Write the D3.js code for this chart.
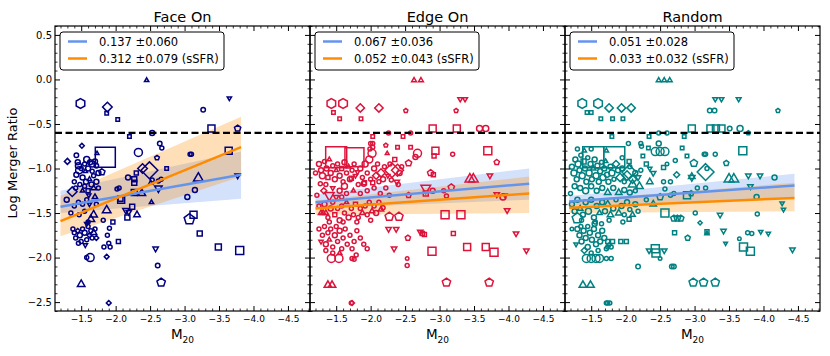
<!DOCTYPE html>
<html><head><meta charset="utf-8">
<script src="https://cdn.jsdelivr.net/npm/d3@7"></script>
<style>body{margin:0;background:#fff}svg{display:block}text{font-family:"DejaVu Sans",sans-serif}</style>
</head><body>
<svg id="c" width="830" height="356"></svg>
<script>
// ---------- DATA ----------
const panelTitles = ["Face On", "Edge On", "Random"];
const panelColors = ["#000080", "#dc143c", "#008080"];
const xTickValues = [-1.5, -2.0, -2.5, -3.0, -3.5, -4.0, -4.5];
const yTickValues = [0.5, 0.0, -0.5, -1.0, -1.5, -2.0, -2.5];
const mergerThreshold = -0.6;

const legendSlope = ["0.137 \u00b10.060", "0.067 \u00b10.036", "0.051 \u00b10.028"];
const legendSlopeSSFR = ["0.312 \u00b10.079 (sSFR)", "0.052 \u00b10.043 (sSFR)", "0.033 \u00b10.032 (sSFR)"];

// fit ranges (x ends) and line / band end values
const fitX = [[-1.2, -3.82], [-1.2, -4.3], [-1.18, -4.45]];
const fitM20 = [[-1.43, -1.07], [-1.38, -1.17], [-1.37, -1.19]];
const fitSSFR = [[-1.59, -0.76], [-1.45, -1.28], [-1.44, -1.33]];
const bandM20Upper = [[-1.25, -0.81], [-1.29, -1.00], [-1.31, -1.06]];
const bandM20Lower = [[-1.50, -1.34], [-1.45, -1.35], [-1.42, -1.33]];
const bandSSFRUpper = [[-1.31, -0.42], [-1.36, -1.09], [-1.36, -1.16]];
const bandSSFRLower = [[-1.76, -1.09], [-1.52, -1.50], [-1.50, -1.48]];

// points: [M20, logMergerRatio, marker, size]
const faceOnPoints = [
[-2.45,-0.01,'^',4],[-1.49,-0.27,'h',9],[-1.88,-0.31,'D',8],[-1.87,-0.38,'s',3.5],[-2.03,-0.45,'s',3.5],
[-3.27,-0.34,'o',4.5],[-3.65,-0.21,'v',4],[-3.39,-0.55,'s',7],[-3.77,-0.55,'p',6],[-2.53,-0.60,'o',5],
[-2.20,-0.64,'s',3.5],[-2.64,-0.72,'o',4.5],[-2.67,-0.77,'o',4],[-2.33,-0.82,'o',8],[-2.60,-0.88,'p',4.5],
[-3.08,-0.84,'o',4],[-3.10,-0.84,'o',4],[-3.64,-0.80,'s',7],[-1.85,-0.875,'s',20],[-1.73,-0.83,'^',3.5],
[-1.51,-0.745,'D',4],[-1.30,-0.92,'D',5],[-2.49,-1.02,'D',14],[-2.39,-1.00,'D',8],[-2.74,-1.00,'s',3.5],
[-2.18,-1.10,'o',5],[-2.30,-1.05,'s',4],[-2.27,-1.12,'s',5],[-2.27,-1.16,'s',5],[-2.02,-1.23,'o',4],
[-2.53,-1.13,'o',4],[-2.66,-1.12,'o',4],[-3.20,-1.11,'^',9],[-3.77,-1.08,'v',5],[-3.15,-1.24,'o',5],
[-3.04,-1.32,'o',5],[-2.62,-1.22,'v',7],[-2.38,-1.28,'^',7],[-2.27,-1.27,'s',6],[-2.51,-1.16,'^',4],
[-2.08,-1.35,'s',7],[-2.15,-1.47,'v',6],[-2.19,-1.49,'v',5],[-2.24,-1.43,'s',5],[-2.31,-1.52,'^',6],
[-2.17,-1.55,'s',5],[-1.87,-1.47,'^',8],[-1.82,-1.58,'o',4],[-1.68,-1.52,'^',7],[-1.64,-1.57,'^',7],
[-1.96,-1.60,'s',4],[-3.07,-1.57,'p',10],[-3.13,-1.52,'s',7],[-3.22,-1.73,'s',5],[-3.49,-1.88,'s',6],
[-3.80,-1.92,'s',8],[-1.91,-1.67,'o',4],[-1.88,-1.75,'o',4],[-2.04,-1.82,'s',4],[-2.58,-1.90,'v',5],
[-1.90,-1.84,'o',4],[-1.92,-1.88,'o',4],[-1.83,-1.88,'o',4],[-1.63,-2.00,'o',8],[-1.58,-2.00,'o',4],
[-1.50,-2.30,'^',7],[-1.90,-2.51,'D',4],[-1.87,-1.99,'D',4],[-2.61,-2.09,'o',4.5],[-2.66,-2.28,'p',8],
[-2.52,-1.38,'^',4],[-2.05,-1.22,'o',4],[-2.07,-1.34,'s',5],[-2.62,-1.14,'o',4],[-1.80,-1.04,'p',6],
[-1.37,-1.26,'D',8],[-1.29,-1.35,'o',5],[-1.40,-1.15,'o',4],[-1.61,-1.30,'v',4],
[-1.43,-0.85,'o',4.5],[-1.45,-0.93,'o',5],[-1.46,-0.97,'o',6],[-1.47,-1.02,'o',7],[-1.43,-1.07,'o',5],
[-1.50,-1.00,'o',4],[-1.52,-1.10,'o',5],[-1.55,-0.95,'o',4],[-1.58,-0.90,'o',6],[-1.60,-1.00,'o',5],
[-1.63,-0.93,'o',5],[-1.66,-0.95,'o',6],[-1.70,-0.92,'o',5],[-1.72,-0.97,'o',4.5],[-1.75,-1.05,'o',5],
[-1.68,-1.08,'o',4],[-1.62,-1.12,'^',4],[-1.57,-1.15,'o',5],[-1.55,-1.20,'o',4],[-1.65,-1.18,'o',5],
[-1.72,-1.15,'o',5],[-1.48,-1.18,'o',4],[-1.52,-1.25,'^',4],[-1.60,-1.25,'s',4],[-1.68,-1.22,'^',5],
[-1.42,-1.22,'o',4],[-1.75,-1.22,'o',4],[-1.56,-1.03,'^',4],[-1.66,-1.03,'o',4],[-1.70,-1.32,'^',5],
[-1.58,-1.35,'o',4],[-1.52,-1.40,'o',4],[-1.46,-1.38,'o',4],[-1.62,-1.40,'v',4],[-1.72,-1.40,'o',4],
[-1.40,-1.42,'o',4],[-1.55,-1.48,'o',4],[-1.47,-1.52,'o',4],[-1.35,-1.50,'o',4],
[-1.40,-1.72,'o',4],[-1.42,-1.78,'o',4],[-1.45,-1.70,'D',4],[-1.48,-1.75,'o',5],[-1.50,-1.82,'o',4],
[-1.52,-1.68,'o',4],[-1.55,-1.72,'o',5],[-1.58,-1.80,'o',4],[-1.60,-1.65,'o',4],[-1.62,-1.75,'D',4],
[-1.64,-1.70,'o',4],[-1.66,-1.78,'o',4],[-1.68,-1.72,'^',6],[-1.70,-1.68,'o',4],[-1.56,-1.86,'v',4],
[-1.46,-1.84,'o',4],[-1.38,-1.68,'o',4],[-1.60,-1.60,'o',4],[-1.72,-1.78,'D',4],[-1.58,-1.62,'v',4]
];

const edgeOnPoints = [
[-2.63,-0.01,'^',4.5],[-2.73,-0.01,'^',4.5],[-1.43,-0.27,'h',9],[-1.60,-0.27,'h',9],
[-1.85,-0.32,'D',7],[-2.12,-0.32,'D',7],[-1.46,-0.37,'s',3.5],[-1.55,-0.44,'s',3.5],[-1.86,-0.44,'s',3.5],
[-2.51,-0.35,'p',4],[-3.24,-0.35,'p',4],[-3.30,-0.22,'v',4.5],[-3.37,-0.22,'v',4.5],
[-2.90,-0.55,'s',7],[-3.25,-0.55,'s',7],[-3.58,-0.55,'o',6],[-3.67,-0.55,'o',6],
[-2.26,-0.60,'o',4],[-2.58,-0.60,'o',4],[-2.03,-0.64,'s',3.5],[-2.47,-0.64,'s',3.5],
[-2.00,-0.72,'o',4],[-2.03,-0.72,'o',4],[-2.22,-0.74,'p',4],[-2.39,-0.76,'s',3.5],[-2.58,-0.76,'s',3.5],
[-2.24,-0.83,'^',3.5],[-2.68,-0.83,'o',8],[-2.65,-0.87,'o',5],[-2.94,-0.80,'s',7],[-2.92,-0.86,'s',4],
[-3.19,-0.84,'o',4],[-3.70,-0.80,'s',8],[-3.83,-0.93,'p',5],
[-1.50,-0.875,'s',21],[-1.765,-0.875,'s',19],
[-2.02,-0.83,'o',8],[-1.99,-0.78,'o',4],[-2.03,-0.76,'o',4],
[-2.31,-1.02,'D',12],[-2.39,-1.02,'D',10],[-2.55,-0.94,'p',6],[-2.38,-1.15,'v',5],
[-2.87,-1.05,'p',6],[-2.91,-1.07,'s',4],[-1.72,-1.11,'s',4],[-1.91,-1.16,'s',4],[-2.03,-1.16,'s',4],
[-1.81,-1.04,'v',4],[-2.80,-1.22,'v',9],[-2.55,-1.30,'p',5],
[-2.27,-1.54,'p',8],[-2.41,-1.54,'p',8],[-2.26,-1.68,'v',5],[-2.37,-1.68,'v',5],
[-2.75,-1.73,'s',4],[-2.54,-1.78,'p',5],[-2.89,-1.93,'s',8],[-2.34,-1.90,'v',5],
[-2.53,-2.01,'o',3.5],[-2.53,-2.09,'o',4],[-1.43,-2.01,'o',8],[-1.54,-2.01,'o',8],
[-1.73,-2.01,'o',4],[-1.79,-1.97,'o',4],[-1.76,-2.02,'o',4],
[-3.44,-1.12,'^',9],[-3.49,-1.12,'^',9],[-3.73,-1.08,'v',5],
[-3.83,-1.29,'v',5],[-3.92,-1.32,'o',6],[-3.95,-1.30,'v',4],[-3.98,-1.47,'v',5],
[-3.08,-1.52,'s',8],[-3.31,-1.52,'s',8],[-4.11,-1.73,'v',5],[-3.20,-1.73,'s',4],[-4.26,-1.92,'v',5],
[-3.40,-1.88,'s',7],[-3.67,-1.88,'s',7],[-3.79,-1.94,'s',8],
[-2.72,-1.71,'v',5],[-2.78,-1.74,'s',4],[-3.10,-2.28,'p',8],[-3.72,-2.28,'p',8],
[-1.38,-2.31,'^',7],[-1.44,-2.31,'^',7],[-1.72,-2.51,'o',4],[-1.73,-2.51,'D',4],
[-2.90,-1.25,'o',5],[-3.06,-1.25,'o',4],[-3.10,-1.31,'o',4],[-2.80,-1.28,'s',5],[-3.17,-1.21,'p',6],
[-2.14,-1.28,'o',4],[-2.27,-1.30,'o',4],
[-1.25,-0.95,'o',5],[-1.28,-1.02,'o',5],[-1.30,-1.08,'o',6],[-1.33,-0.92,'o',4],[-1.36,-1.00,'o',5],
[-1.38,-1.10,'s',4],[-1.40,-0.90,'^',4],[-1.42,-1.05,'o',5],[-1.45,-0.97,'o',4],[-1.48,-1.12,'o',5],
[-1.50,-1.02,'^',4],[-1.52,-0.95,'o',4],[-1.55,-1.08,'o',5],[-1.58,-1.00,'s',4],[-1.60,-1.15,'o',4],
[-1.62,-0.93,'o',5],[-1.65,-1.05,'o',4],[-1.68,-0.98,'^',4],[-1.70,-1.12,'o',5],[-1.73,-1.02,'o',4],
[-1.76,-0.95,'o',4],[-1.78,-1.08,'v',4],[-1.82,-1.18,'o',4],[-1.85,-1.00,'o',5],[-1.88,-1.10,'o',4],
[-1.92,-0.95,'o',6],[-1.95,-1.05,'o',4],[-1.98,-0.90,'o',7],[-2.00,-1.12,'o',4],[-2.05,-1.00,'o',5],
[-2.08,-1.08,'D',6],[-2.10,-0.95,'o',4],[-2.12,-1.15,'o',4],[-2.15,-1.05,'D',7],[-2.18,-1.12,'o',5],
[-2.20,-0.98,'o',4],[-2.22,-1.22,'o',4],[-2.25,-1.08,'v',4],[-2.28,-0.95,'o',4],[-2.30,-1.13,'o',4],
[-2.42,-1.05,'o',5],[-2.45,-0.98,'o',4],[-1.35,-1.18,'o',4],[-1.45,-1.22,'v',4],[-1.55,-1.25,'o',5],
[-1.65,-1.28,'o',4],[-1.75,-1.25,'^',4],[-1.85,-1.28,'o',4],[-1.95,-1.25,'o',4],[-2.05,-1.22,'o',4],
[-1.27,-1.17,'o',4],[-1.32,-1.25,'D',5],[-1.40,-1.30,'v',9],[-1.50,-1.32,'v',5],[-1.58,-1.32,'o',4],
[-1.62,-1.20,'o',6],[-1.20,-1.05,'o',4],[-1.22,-1.30,'o',4],[-1.90,-1.17,'o',5],[-2.35,-0.90,'s',4],
[-2.40,-1.18,'o',4],
[-1.25,-1.42,'o',4],[-1.28,-1.50,'^',5],[-1.31,-1.50,'^',5],[-1.35,-1.50,'^',5],[-1.33,-1.40,'o',5],
[-1.38,-1.55,'o',4],[-1.42,-1.45,'o',5],[-1.45,-1.38,'o',4],[-1.48,-1.52,'s',4],[-1.52,-1.45,'o',4],
[-1.55,-1.58,'o',5],[-1.58,-1.42,'o',4],[-1.62,-1.50,'o',4],[-1.65,-1.38,'^',4],[-1.68,-1.55,'o',5],
[-1.72,-1.45,'o',4],[-1.75,-1.52,'o',4],[-1.78,-1.40,'s',4],[-1.82,-1.55,'o',4],[-1.85,-1.45,'o',4],
[-1.88,-1.50,'^',5],[-1.92,-1.42,'o',4],[-1.95,-1.52,'o',4],[-1.98,-1.38,'o',4],[-2.02,-1.48,'^',5],
[-2.05,-1.42,'o',4],[-2.08,-1.50,'o',5],[-2.12,-1.38,'o',4],[-2.15,-1.46,'^',5],[-2.18,-1.44,'o',4],
[-1.40,-1.60,'o',4],[-1.60,-1.60,'o',4],[-1.80,-1.60,'o',4],[-2.00,-1.58,'o',4],
[-1.25,-1.68,'o',4],[-1.28,-1.82,'v',4],[-1.30,-1.75,'o',4],[-1.33,-1.65,'o',4],[-1.35,-1.85,'o',5],
[-1.38,-1.72,'o',4],[-1.40,-1.80,'^',4],[-1.42,-1.68,'o',4],[-1.45,-1.88,'o',4],[-1.48,-1.75,'o',5],
[-1.50,-1.65,'o',4],[-1.52,-1.82,'o',4],[-1.55,-1.70,'o',5],[-1.58,-1.90,'o',4],[-1.60,-1.78,'o',4],
[-1.63,-1.68,'o',4],[-1.66,-1.85,'o',4],[-1.70,-1.75,'o',4],[-1.73,-1.90,'o',4],[-1.76,-1.82,'o',4],
[-1.80,-1.70,'o',4],[-1.85,-1.78,'o',4],[-1.90,-1.85,'o',4],[-1.95,-1.90,'o',4],[-1.45,-1.95,'o',4],
[-1.35,-1.92,'o',4],[-1.55,-1.95,'^',4]
];

const randomPoints = [
[-2.48,-0.01,'^',4.5],[-2.56,-0.01,'^',4.5],[-2.64,-0.01,'^',4.5],[-1.37,-0.27,'h',9],[-1.60,-0.27,'h',9],
[-1.76,-0.32,'D',7],[-1.94,-0.32,'D',7],[-2.08,-0.32,'D',7],[-1.44,-0.37,'s',3.5],[-1.50,-0.37,'s',3.5],
[-1.64,-0.44,'s',3.5],[-1.81,-0.44,'s',3.5],[-1.96,-0.44,'s',3.5],
[-3.30,-0.22,'v',4.5],[-3.39,-0.22,'v',4.5],[-3.64,-0.22,'v',4.5],[-3.22,-0.35,'o',4.5],[-3.29,-0.35,'o',4.5],
[-4.21,-0.35,'p',4],[-2.96,-0.55,'s',7],[-3.23,-0.55,'s',7],[-3.31,-0.55,'s',7],[-3.39,-0.55,'s',7],
[-3.51,-0.55,'o',4.5],[-3.66,-0.55,'o',6],[-3.78,-0.60,'p',4],[-2.48,-0.60,'o',4],[-2.60,-0.60,'o',4],
[-2.85,-0.64,'s',3.5],[-1.80,-0.64,'s',3.5],[-2.34,-0.64,'s',3.5],
[-2.04,-0.72,'o',4],[-2.22,-0.72,'o',4],[-2.23,-0.75,'o',4],[-2.33,-0.77,'s',3.5],[-2.48,-0.72,'o',5],
[-2.43,-0.81,'o',8],[-2.50,-0.81,'o',8],[-2.57,-0.81,'o',8],[-2.25,-0.86,'s',3.5],
[-2.82,-0.77,'s',3.5],[-2.89,-0.86,'s',3.5],[-3.14,-0.84,'o',4],[-3.16,-0.84,'o',4],[-3.30,-0.84,'o',4],
[-3.70,-0.80,'s',8],[-2.72,-0.91,'o',4],[-2.99,-0.94,'p',7],[-3.46,-0.94,'p',5],
[-3.16,-1.04,'D',14],[-3.18,-1.00,'o',4],[-3.50,-1.12,'^',9],[-3.57,-1.12,'^',9],
[-3.78,-1.08,'v',5],[-3.95,-1.08,'v',5],[-4.16,-1.10,'o',5],[-2.05,-1.04,'D',12],
[-1.53,-0.875,'s',21],[-1.835,-0.875,'s',21],[-2.74,-1.07,'D',5],
[-2.96,-1.09,'^',6],[-2.96,-1.10,'v',6],[-3.81,-1.20,'v',5],[-2.89,-1.30,'s',7],[-2.95,-1.28,'p',5],
[-3.04,-1.22,'o',4],[-3.16,-1.22,'o',4],[-2.57,-1.23,'o',4],[-4.27,-1.39,'v',4],[-4.29,-1.46,'v',4],
[-3.90,-1.32,'o',5],[-2.57,-1.50,'s',8],[-2.70,-1.56,'p',6],[-2.75,-1.56,'p',6],[-2.80,-1.56,'p',6],
[-3.01,-1.50,'o',4],[-3.37,-1.52,'v',5],[-3.91,-1.51,'o',4],[-3.08,-1.61,'D',3.5],
[-2.71,-1.72,'s',4],[-2.90,-1.78,'p',5],[-3.18,-1.71,'s',4],[-3.18,-1.73,'^',4],[-3.42,-1.70,'v',5],
[-3.45,-1.84,'v',3.5],[-3.65,-1.79,'o',3.5],[-3.77,-1.72,'o',4],[-3.83,-1.73,'o',4],
[-3.96,-1.71,'v',4],[-4.07,-1.73,'v',4],[-3.71,-1.88,'s',8],[-3.81,-1.93,'s',8],[-4.42,-1.91,'v',5],
[-2.34,-1.92,'v',5],[-2.56,-1.92,'v',5],[-2.43,-1.90,'s',8],[-2.44,-1.95,'s',8],[-2.50,-2.01,'o',3.5],
[-2.18,-2.10,'o',4.5],[-2.67,-2.10,'o',4.5],[-2.70,-2.10,'o',4.5],
[-2.98,-2.28,'p',8],[-3.13,-2.28,'p',8],[-3.30,-2.28,'p',8],[-1.38,-2.31,'^',7],[-1.49,-2.31,'^',7],
[-1.72,-2.51,'o',4],[-1.74,-2.51,'o',4],[-1.77,-2.51,'o',4],
[-1.43,-2.01,'o',8],[-1.50,-2.01,'o',8],[-1.57,-2.01,'o',8],[-1.62,-2.01,'o',8],[-1.72,-2.01,'o',4],[-1.79,-2.01,'o',4],
[-1.30,-1.56,'p',10],[-1.74,-1.82,'s',4],[-1.81,-1.82,'s',4],[-1.93,-1.82,'s',4],[-2.01,-1.82,'s',4],
[-1.74,-1.88,'o',4],[-1.79,-1.88,'o',4],[-1.76,-1.86,'D',4],[-1.22,-1.68,'o',3.5],[-2.05,-1.57,'s',4],
[-2.40,-1.40,'^',6],[-2.30,-1.35,'o',4],[-2.50,-1.32,'p',6],[-2.65,-1.30,'o',4],[-2.70,-1.28,'o',4],
[-2.10,-1.18,'^',8],[-2.20,-1.20,'^',7],[-2.35,-1.15,'^',6],[-2.55,-1.15,'o',4],[-2.65,-1.15,'o',4],
[-2.55,-0.99,'s',4],[-2.60,-0.95,'o',3.5],[-2.30,-0.95,'s',4],[-2.35,-1.00,'v',4],[-2.40,-1.05,'v',5],
[-1.22,-0.98,'o',5],[-1.25,-1.05,'o',6],[-1.27,-0.90,'o',5],[-1.29,-1.12,'o',5],[-1.31,-0.95,'o',6],
[-1.33,-1.02,'o',5],[-1.35,-0.85,'o',4],[-1.37,-1.08,'o',6],[-1.39,-0.92,'s',5],[-1.41,-1.00,'o',5],
[-1.43,-1.15,'o',5],[-1.45,-0.88,'o',4],[-1.47,-1.05,'o',6],[-1.49,-0.95,'o',5],[-1.51,-1.12,'o',5],
[-1.53,-1.00,'^',5],[-1.55,-0.90,'o',5],[-1.57,-1.08,'o',6],[-1.59,-0.97,'o',5],[-1.61,-1.15,'o',5],
[-1.63,-1.03,'o',5],[-1.65,-0.93,'o',4],[-1.67,-1.10,'o',6],[-1.69,-1.00,'o',5],[-1.71,-0.92,'^',4],
[-1.73,-1.07,'o',5],[-1.75,-1.15,'o',5],[-1.78,-0.98,'o',5],[-1.80,-1.05,'o',6],[-1.83,-1.12,'o',4],
[-1.86,-0.95,'D',6],[-1.89,-1.02,'o',5],[-1.92,-1.10,'D',7],[-1.95,-1.00,'o',5],[-1.98,-1.15,'o',4],
[-2.02,-1.08,'D',8],[-2.06,-0.98,'o',4],[-2.10,-1.12,'D',7],[-2.14,-1.05,'o',5],[-2.18,-1.10,'v',5],
[-2.22,-1.02,'o',4],[-1.30,-0.78,'o',4],[-1.40,-0.80,'^',4],[-1.50,-0.78,'o',4],[-1.72,-0.80,'^',4],
[-1.26,-1.20,'o',5],[-1.34,-1.22,'o',5],[-1.42,-1.25,'o',6],[-1.50,-1.20,'o',5],[-1.58,-1.25,'o',5],
[-1.66,-1.22,'o',5],[-1.74,-1.27,'^',6],[-1.82,-1.22,'o',5],[-1.90,-1.27,'^',6],[-1.98,-1.24,'o',5],
[-2.06,-1.27,'o',5],[-2.14,-1.25,'o',4],[-1.20,-1.28,'o',4],[-1.95,-0.88,'o',4],[-2.05,-0.92,'s',4],
[-1.22,-1.40,'o',5],[-1.26,-1.48,'o',5],[-1.30,-1.35,'o',5],[-1.34,-1.45,'^',5],[-1.38,-1.52,'o',5],
[-1.42,-1.38,'o',5],[-1.46,-1.48,'o',6],[-1.50,-1.35,'o',5],[-1.54,-1.55,'o',5],[-1.58,-1.42,'o',5],
[-1.62,-1.50,'^',5],[-1.66,-1.38,'o',5],[-1.70,-1.48,'o',5],[-1.74,-1.40,'^',6],[-1.78,-1.52,'^',6],
[-1.82,-1.45,'o',5],[-1.86,-1.35,'o',4],[-1.90,-1.50,'^',6],[-1.94,-1.42,'o',5],[-1.98,-1.52,'o',4],
[-2.02,-1.38,'o',5],[-2.06,-1.46,'o',4],[-2.10,-1.52,'^',5],[-2.14,-1.40,'o',5],[-2.18,-1.48,'o',4],
[-1.36,-1.58,'o',4],[-1.56,-1.60,'o',4],[-1.76,-1.58,'o',4],[-1.96,-1.60,'o',4],
[-1.30,-1.68,'o',5],[-1.33,-1.75,'o',5],[-1.36,-1.82,'o',5],[-1.39,-1.70,'o',5],[-1.42,-1.78,'o',5],
[-1.45,-1.88,'o',5],[-1.48,-1.72,'o',5],[-1.51,-1.80,'o',5],[-1.54,-1.68,'o',5],[-1.57,-1.85,'o',5],
[-1.60,-1.75,'o',5],[-1.63,-1.82,'o',5],[-1.66,-1.70,'o',5],[-1.69,-1.78,'o',5],[-1.72,-1.90,'o',4],
[-1.40,-1.92,'D',5],[-1.50,-1.95,'o',4],[-1.28,-1.85,'v',4],[-1.35,-1.65,'o',4],[-1.45,-1.65,'o',4],
[-1.55,-1.62,'o',5],[-1.65,-1.62,'o',4],[-1.60,-1.92,'o',4]
];

const panelPoints = [faceOnPoints, edgeOnPoints, randomPoints];

// ---------- LAYOUT ----------
const svg = d3.select("#c");
const plotTop = 26, plotBottom = 311, panelW = 255, left0 = 55;
const y = d3.scaleLinear().domain([0.6, -2.6]).range([plotTop, plotBottom]);
const blue = "#6495ed", orange = "#ff8c00";
const fmt = d => (d < 0 ? "\u2212" : "") + Math.abs(d).toFixed(1);
const xMinor = d3.range(12, 49).filter(i => i % 5 !== 0).map(i => -i / 10);
const yMinor = d3.range(-26, 7).filter(i => i % 5 !== 0).map(i => i / 10);

function markerPath(shape, size) {
  if (shape === 'o') {
    const r = size / 2;
    return `M${r},0A${r},${r} 0 1,1 ${-r},0A${r},${r} 0 1,1 ${r},0Z`;
  }
  let n, r, rot;
  if (shape === 's') { n = 4; r = size / 2 * Math.SQRT2; rot = Math.PI / 4; }
  else if (shape === 'D') { n = 4; r = size * 0.6; rot = 0; }
  else if (shape === '^') { n = 3; r = size * 0.62; rot = 0; }
  else if (shape === 'v') { n = 3; r = size * 0.62; rot = Math.PI; }
  else if (shape === 'p') { n = 5; r = size * 0.55; rot = 0; }
  else { n = 6; r = size * 0.55; rot = 0; }
  const pts = d3.range(n).map(k => {
    const a = rot + k * 2 * Math.PI / n;
    return [r * Math.sin(a), -r * Math.cos(a)];
  });
  return "M" + pts.map(p => p[0].toFixed(2) + "," + p[1].toFixed(2)).join("L") + "Z";
}

panelTitles.forEach((title, i) => {
  const x0 = left0 + i * panelW;
  const x = d3.scaleLinear().domain([-1.12, -4.82]).range([x0, x0 + panelW]);
  const g = svg.append("g");
  const color = panelColors[i];

  // bands
  const band = (up, lo, col) => {
    const xs = fitX[i];
    const pts = [[xs[0], up[0]], [xs[1], up[1]], [xs[1], lo[1]], [xs[0], lo[0]]];
    g.append("path")
      .attr("d", "M" + pts.map(p => x(p[0]) + "," + y(p[1])).join("L") + "Z")
      .attr("fill", col).attr("fill-opacity", 0.28).attr("stroke", "none");
  };
  band(bandM20Upper[i], bandM20Lower[i], blue);
  band(bandSSFRUpper[i], bandSSFRLower[i], orange);

  // points
  g.append("g").selectAll("path").data(panelPoints[i]).join("path")
    .attr("transform", d => `translate(${x(d[0])},${y(d[1])})`)
    .attr("d", d => markerPath(d[2], d[3]))
    .attr("fill", "none").attr("stroke", color).attr("stroke-width", 1.5);

  // fit lines
  const fitLine = (vals, col) => g.append("line")
    .attr("x1", x(fitX[i][0])).attr("y1", y(vals[0]))
    .attr("x2", x(fitX[i][1])).attr("y2", y(vals[1]))
    .attr("stroke", col).attr("stroke-width", 2.5);
  fitLine(fitM20[i], blue);
  fitLine(fitSSFR[i], orange);

  // dashed threshold
  g.append("line").attr("x1", x0).attr("x2", x0 + panelW)
    .attr("y1", y(mergerThreshold)).attr("y2", y(mergerThreshold))
    .attr("stroke", "#000").attr("stroke-width", 2.2).attr("stroke-dasharray", "7,3.5");

  // axes
  const axes = [
    [d3.axisBottom(x), `translate(0,${plotBottom})`, xTickValues, xMinor, true, 5, "9px"],
    [d3.axisTop(x), `translate(0,${plotTop})`, xTickValues, xMinor, false, 5, "9px"],
    [d3.axisLeft(y), `translate(${x0},0)`, yTickValues, yMinor, i === 0, 3, "10px"],
    [d3.axisRight(y), `translate(${x0 + panelW},0)`, yTickValues, yMinor, false, 3, "10px"]
  ];
  axes.forEach(([ax, tr, major, minor, labels, pad, fs]) => {
    const gm = g.append("g").attr("transform", tr)
      .call(ax.tickValues(major).tickSize(-5).tickSizeOuter(0).tickPadding(pad)
        .tickFormat(labels ? fmt : ""));
    gm.select(".domain").remove();
    gm.selectAll("line").attr("stroke", "#000").attr("stroke-width", 1);
    gm.selectAll("text").attr("fill", "#000")
      .style("font-size", fs).style("font-family", "DejaVu Sans");
    const mi = g.append("g").attr("transform", tr)
      .call(ax.tickValues(minor).tickSize(-2.5).tickSizeOuter(0).tickFormat(""));
    mi.select(".domain").remove();
    mi.selectAll("line").attr("stroke", "#000").attr("stroke-width", 0.8);
  });
  g.append("rect").attr("x", x0).attr("y", plotTop).attr("width", panelW).attr("height", plotBottom - plotTop)
    .attr("fill", "none").attr("stroke", "#000").attr("stroke-width", 1.2);

  // title
  g.append("text").attr("x", x0 + panelW / 2).attr("y", 22).attr("text-anchor", "middle")
    .style("font-size", "14.5px").text(title);

  // x label
  const xl = g.append("text").attr("x", x0 + panelW / 2).attr("y", 339).attr("text-anchor", "middle")
    .style("font-size", "13.5px");
  xl.append("tspan").text("M");
  xl.append("tspan").attr("dy", 4).style("font-size", "9px").text("20");

  // legend
  const lg = g.append("g").attr("transform", `translate(${x0 + 5},32)`);
  lg.append("rect").attr("width", 164).attr("height", 38).attr("rx", 3)
    .attr("fill", "#fff").attr("stroke", "#000").attr("stroke-width", 1);
  [[legendSlope[i], blue, 9.5], [legendSlopeSSFR[i], orange, 26.5]].forEach(([t, c, yy]) => {
    lg.append("line").attr("x1", 8).attr("x2", 27).attr("y1", yy).attr("y2", yy)
      .attr("stroke", c).attr("stroke-width", 2.5);
    lg.append("text").attr("x", 39).attr("y", yy + 4).style("font-size", "11.5px").text(t);
  });
});

// y label
svg.append("text").attr("transform", "translate(17,163) rotate(-90)")
  .attr("text-anchor", "middle").style("font-size", "13px").text("Log Merger Ratio");
</script>
</body></html>
